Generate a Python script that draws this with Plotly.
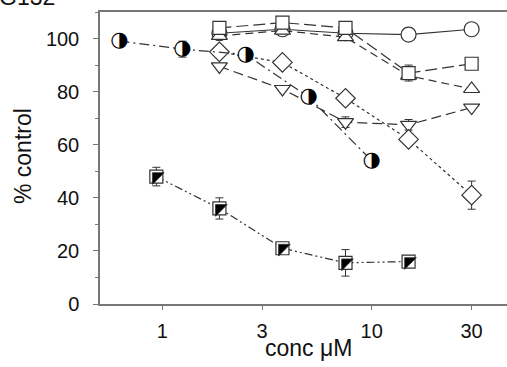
import plotly.graph_objects as go

# ---- data ----
x_open = [1.875, 3.75, 7.5, 15, 30]
y_circle = [102, 103.5, 102, 101.5, 103.5]
y_square = [104, 106, 104, 87, 90.5]
e_square = [0, 0, 0, 3, 0]
y_tri_up = [101, 103, 100.5, 86, 81]
y_tri_down = [89.5, 81, 68.5, 67.5, 74]
e_tri_down = [0, 0, 2, 2, 0]
y_diamond = [95, 91, 77.5, 62, 41]
e_diamond = [0, 0, 0, 0, 5.3]

x_halfcircle = [0.625, 1.25, 2.5, 5, 10]
y_halfcircle = [99, 96, 94, 78, 54]
e_halfcircle = [0, 3, 0, 0, 0]

x_halfsquare = [0.9375, 1.875, 3.75, 7.5, 15]
y_halfsquare = [48, 36, 21, 15.5, 16]
e_halfsquare = [3.5, 4, 0, 5, 0]

x_ticks = [1, 3, 10, 30]
y_ticks = [0, 20, 40, 60, 80, 100]

INK = "#333333"
AX = "#777777"

fig = go.Figure()

def err(e):
    return dict(type="data", array=e, visible=True, color=INK, thickness=1, width=4)

def open_series(x, y, symbol, dash, size, e=None):
    fig.add_trace(go.Scatter(
        x=x, y=y, mode="lines+markers",
        line=dict(color=INK, width=1.2, dash=dash),
        marker=dict(symbol=symbol, size=size, color="white",
                    line=dict(color=INK, width=1.2)),
        error_y=err(e) if e else None,
        showlegend=False))

open_series(x_open, y_circle, "circle", "solid", 15)
open_series(x_open, y_tri_up, "triangle-up", "8px,5px", 14)
open_series(x_open, y_square, "square", "12px,5px", 13, e_square)
open_series(x_open, y_tri_down, "triangle-down", "10px,5px", 14, e_tri_down)
open_series(x_open, y_diamond, "diamond", "dot", 15, e_diamond)

# half-filled circles (dash-dot)
fig.add_trace(go.Scatter(
    x=x_halfcircle, y=y_halfcircle, mode="lines+markers+text",
    line=dict(color=INK, width=1.2, dash="10px,4px,2px,4px"),
    marker=dict(symbol="circle", size=14, color="white", line=dict(width=0)),
    text=["\u25D1"] * len(x_halfcircle), textposition="middle center",
    textfont=dict(family="DejaVu Sans", size=21, color="black"),
    error_y=err(e_halfcircle), showlegend=False))

# half-filled squares (dash-dot-dot)
fig.add_trace(go.Scatter(
    x=x_halfsquare, y=y_halfsquare, mode="lines+markers",
    line=dict(color=INK, width=1.2, dash="8px,3px,2px,3px,2px,3px"),
    marker=dict(symbol="square", size=13, color="white",
                line=dict(color=INK, width=1.2)),
    error_y=err(e_halfsquare), showlegend=False))
fig.add_trace(go.Scatter(
    x=x_halfsquare, y=y_halfsquare, mode="markers",
    marker=dict(symbol="triangle-nw", size=13, color="black",
                line=dict(color=INK, width=0.8)),
    showlegend=False, hoverinfo="skip"))

fig.update_layout(
    width=507, height=367,
    margin=dict(l=100, r=0, t=12, b=63),
    paper_bgcolor="white", plot_bgcolor="white",
    font=dict(family="Liberation Sans, Arial, sans-serif", color="#111111"),
    xaxis=dict(
        type="log", range=[-0.297, 1.646],
        tickvals=x_ticks, ticktext=[str(v) for v in x_ticks],
        ticks="outside", ticklen=4, tickcolor=AX, tickwidth=1,
        showline=True, linecolor=AX, linewidth=1.5, mirror=True,
        showgrid=False, zeroline=False,
        tickfont=dict(size=20), ticklabelstandoff=4,
    ),
    yaxis=dict(
        range=[0, 110],
        tickvals=y_ticks,
        ticks="outside", ticklen=5, tickcolor=AX, tickwidth=1,
        minor=dict(dtick=10, ticks="outside", ticklen=3, tickcolor=AX),
        showline=True, linecolor=AX, linewidth=1.5,
        showgrid=False, zeroline=False,
        tickfont=dict(size=20), ticklabelstandoff=10,
    ),
    annotations=[
        dict(text="G132", xref="paper", yref="paper", x=-0.105, y=1.0,
             xanchor="right", yanchor="bottom", showarrow=False,
             font=dict(size=23, color="#111111")),
        dict(text="conc \u03bcM", xref="paper", yref="paper", x=0.5135, y=-0.151,
             xanchor="center", yanchor="middle", showarrow=False,
             font=dict(size=23, color="#111111")),
        dict(text="% control", xref="paper", yref="paper", x=-0.189, y=0.507,
             xanchor="center", yanchor="middle", textangle=-90, showarrow=False,
             font=dict(size=23, color="#111111")),
    ],
)

fig.write_html("out.html")
